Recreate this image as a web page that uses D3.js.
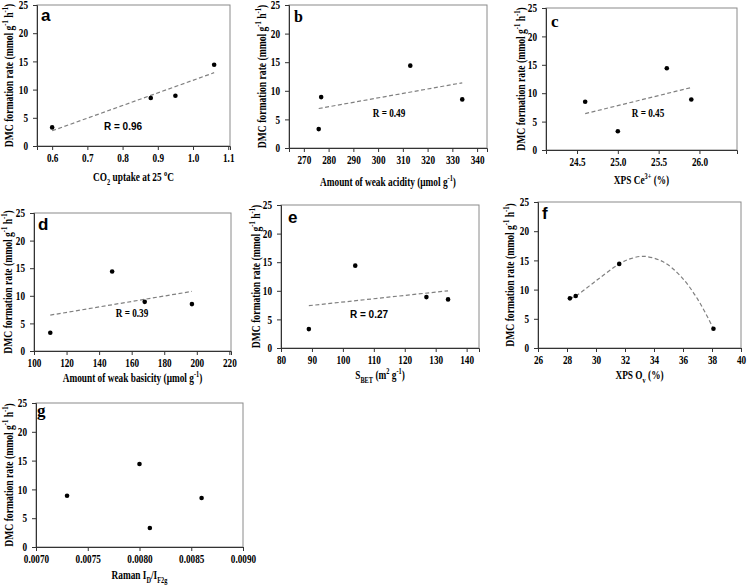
<!DOCTYPE html>
<html><head><meta charset="utf-8">
<script src="https://cdn.jsdelivr.net/npm/d3@7"></script>
<style>body{margin:0;background:#fff}svg{display:block}</style>
</head><body>
<svg id="chart" width="747" height="585"></svg>
<script>
// ---- data (sample order: S1..S4) ----
const dmcRate      = [3.3, 8.5, 8.9, 14.4];
const co2Uptake    = [0.60, 0.88, 0.95, 1.06];
const weakAcidity  = [276, 334, 277, 313];
const xpsCe3       = [25.0, 24.6, 25.9, 25.6];
const weakBasicity = [110, 197, 168, 148];
const sBet         = [89, 134, 127, 104];
const xpsOv        = [38.1, 28.2, 28.6, 31.6];
const ramanRatio   = [0.0081, 0.0086, 0.0073, 0.0080];

const yTicks = [0, 5, 10, 15, 20, 25];
const ticksA = [0.6, 0.7, 0.8, 0.9, 1.0, 1.1];
const ticksB = [270, 280, 290, 300, 310, 320, 330, 340];
const ticksC = [24.5, 25.0, 25.5, 26.0];
const ticksD = [100, 120, 140, 160, 180, 200, 220];
const ticksE = [80, 90, 100, 110, 120, 130, 140];
const ticksF = [26, 28, 30, 32, 34, 36, 38, 40];
const ticksG = [0.0070, 0.0075, 0.0080, 0.0085, 0.0090];

// linear trend lines (end points)
const trendAx = [0.60, 1.06], trendAy = [2.7, 13.0];
const trendBx = [276, 334],   trendBy = [6.9, 11.4];
const trendCx = [24.6, 25.9], trendCy = [6.4, 11.0];
const trendDx = [110, 197],   trendDy = [6.5, 10.8];
const trendEx = [89, 134],    trendEy = [7.4, 10.0];
// fitted curve in panel f
const curveFx = [28.2, 28.6, 30.0, 31.6, 32.4, 33.3, 34.6, 35.8, 37.0, 38.1];
const curveFy = [8.5, 8.9, 11.5, 14.4, 15.3, 15.7, 14.8, 12.4, 8.4, 3.3];

const rLabels = ["R = 0.96", "R = 0.49", "R = 0.45", "R = 0.39", "R = 0.27"];

// ---- layout ----
const SERIF = "'Liberation Serif','Times New Roman',serif";
const SANS  = "'Liberation Sans',Arial,sans-serif";
const CONDENSE = 0.8;

const panels = [
  {letter:"a", lf:SANS, x:co2Uptake, dom:[0.557,1.105], ticks:ticksA, fmt:d3.format(".1f"),
   box:{l:37,r:230,t:5,b:146}, ylabX:9, titleY:181, letterPos:[41,21], letterSize:17,
   title:[{t:"CO"},{t:"2",sub:1},{t:" uptake at 25 "},{t:"o",sup:1},{t:"C"}],
   tx:trendAx, ty:trendAy, r:rLabels[0], rf:SANS, rPos:[123,130]},
  {letter:"b", lf:SERIF, x:weakAcidity, dom:[264,344], ticks:ticksB, fmt:d3.format("d"),
   box:{l:289,r:487,t:5,b:148}, ylabX:262, titleY:186, letterPos:[294,22], letterSize:16,
   title:[{t:"Amount of weak acidity (μmol g"},{t:"-1",sup:1},{t:")"}],
   tx:trendBx, ty:trendBy, r:rLabels[1], rf:SERIF, rPos:[389,117]},
  {letter:"c", lf:SERIF, x:xpsCe3, dom:[24.12,26.46], ticks:ticksC, fmt:d3.format(".1f"),
   box:{l:546,r:737,t:8,b:150}, ylabX:521, titleY:184, letterPos:[551,27], letterSize:17,
   title:[{t:"XPS Ce"},{t:"3+",sup:1},{t:" (%)"}],
   tx:trendCx, ty:trendCy, r:rLabels[2], rf:SERIF, rPos:[648,117]},
  {letter:"d", lf:SANS, x:weakBasicity, dom:[100,221], ticks:ticksD, fmt:d3.format("d"),
   box:{l:34,r:231,t:213,b:351}, ylabX:8, titleY:382, letterPos:[38,230], letterSize:17,
   title:[{t:"Amount of weak basicity (μmol g"},{t:"-1",sup:1},{t:")"}],
   tx:trendDx, ty:trendDy, r:rLabels[3], rf:SERIF, rPos:[132,317]},
  {letter:"e", lf:SANS, x:sBet, dom:[80,144], ticks:ticksE, fmt:d3.format("d"),
   box:{l:281,r:479,t:205,b:348}, ylabX:256, titleY:379, letterPos:[288,223], letterSize:17,
   title:[{t:"S"},{t:"BET",sub:1},{t:" (m"},{t:"2",sup:1},{t:" g"},{t:"-1",sup:1},{t:")"}],
   tx:trendEx, ty:trendEy, r:rLabels[4], rf:SANS, rPos:[369,318]},
  {letter:"f", lf:SANS, x:xpsOv, dom:[26,40], ticks:ticksF, fmt:d3.format("d"),
   box:{l:538,r:741,t:202,b:348}, ylabX:510, titleY:379, letterPos:[542,219], letterSize:17,
   title:[{t:"XPS O"},{t:"v",sub:1},{t:" (%)"}],
   cx:curveFx, cy:curveFy},
  {letter:"g", lf:SERIF, x:ramanRatio, dom:[0.0070,0.0090], ticks:ticksG, fmt:d3.format(".4f"),
   box:{l:36,r:243,t:403,b:547}, ylabX:9, titleY:579, letterPos:[37,416], letterSize:17,
   title:[{t:"Raman I"},{t:"D",sub:1},{t:"/I"},{t:"F2g",sub:1}]}
];

const svg = d3.select("#chart");

function richText(sel, segs, size) {
  let shift = 0;
  segs.forEach(s => {
    const target = s.sup ? -size*0.38 : s.sub ? size*0.3 : 0;
    const ts = sel.append("tspan").text(s.t);
    if (target - shift !== 0) ts.attr("dy", target - shift);
    if (s.sup || s.sub) ts.attr("font-size", size*0.68);
    shift = target;
  });
}

panels.forEach(p => {
  const {l, r, t, b} = p.box;
  const xs = d3.scaleLinear().domain(p.dom).range([l, r]);
  const ys = d3.scaleLinear().domain([0, 25]).range([b, t]);
  const g = svg.append("g");

  // frame
  g.append("rect").attr("x", l).attr("y", t).attr("width", r-l).attr("height", b-t)
    .attr("fill", "none").attr("stroke", "#8a8a8a").attr("stroke-width", 1);

  // axes
  const xa = g.append("g").attr("transform", `translate(0,${b})`)
    .call(d3.axisBottom(xs).tickValues(p.ticks).tickFormat(p.fmt).tickSizeOuter(0).tickSize(4).tickPadding(4));
  const ya = g.append("g").attr("transform", `translate(${l},0)`)
    .call(d3.axisLeft(ys).tickValues(yTicks).tickSizeOuter(0).tickSize(4).tickPadding(4));
  [xa, ya].forEach(a => {
    a.select(".domain").attr("stroke", "#333");
    a.selectAll(".tick line").attr("stroke", "#333");
    a.selectAll("text").attr("font-family", SERIF).attr("font-weight", "bold")
      .attr("font-size", 11.5).attr("fill", "#000");
  });
  xa.selectAll("text").attr("transform", `scale(${CONDENSE},1)`);
  ya.selectAll("text").attr("x", -9/CONDENSE).attr("transform", `scale(${CONDENSE},1)`);

  // y label
  const yl = g.append("text")
    .attr("transform", `translate(${p.ylabX + 4},${(t+b)/2}) rotate(-90) scale(${CONDENSE},1)`)
    .attr("text-anchor", "middle").attr("font-family", SERIF).attr("font-weight", "bold")
    .attr("font-size", 12);
  richText(yl, [{t:"DMC formation rate (mmol g"},{t:"-1",sup:1},{t:" h"},{t:"-1",sup:1},{t:")"}], 12);

  // x title
  const xt = g.append("text")
    .attr("transform", `translate(${(l+r)/2},${p.titleY}) scale(${CONDENSE*0.97},1)`)
    .attr("text-anchor", "middle").attr("font-family", SERIF).attr("font-weight", "bold")
    .attr("font-size", 12);
  richText(xt, p.title, 12);

  // panel letter
  g.append("text").attr("x", p.letterPos[0]).attr("y", p.letterPos[1])
    .attr("font-family", p.lf).attr("font-weight", "bold").attr("font-size", p.letterSize)
    .text(p.letter);

  // trend line
  if (p.tx) {
    const pts = p.tx.map((v, i) => [v, p.ty[i]]);
    g.append("path").datum(pts)
      .attr("d", d3.line().x(d => xs(d[0])).y(d => ys(d[1])))
      .attr("fill", "none").attr("stroke", "#808080").attr("stroke-width", 1.2)
      .attr("stroke-dasharray", "4,2.5");
    g.append("text").attr("x", p.rPos[0]).attr("y", p.rPos[1])
      .attr("text-anchor", "middle").attr("font-family", p.rf).attr("font-weight", "bold")
      .attr("font-size", p.rf === SANS ? 10 : 11.5)
      .attr("transform", p.rf === SERIF ? `translate(${p.rPos[0]*(1-CONDENSE)},0) scale(${CONDENSE},1)` : null)
      .text(p.r);
  }
  if (p.cx) {
    const pts = p.cx.map((v, i) => [v, p.cy[i]]);
    g.append("path").datum(pts)
      .attr("d", d3.line().curve(d3.curveCatmullRom.alpha(0.5)).x(d => xs(d[0])).y(d => ys(d[1])))
      .attr("fill", "none").attr("stroke", "#808080").attr("stroke-width", 1.2)
      .attr("stroke-dasharray", "4,2.5");
  }

  // points
  g.selectAll("circle.pt").data(p.x.map((v, i) => [v, dmcRate[i]])).enter()
    .append("circle").attr("class", "pt")
    .attr("cx", d => xs(d[0])).attr("cy", d => ys(d[1])).attr("r", 2.3).attr("fill", "#000");
});
</script>
</body></html>
